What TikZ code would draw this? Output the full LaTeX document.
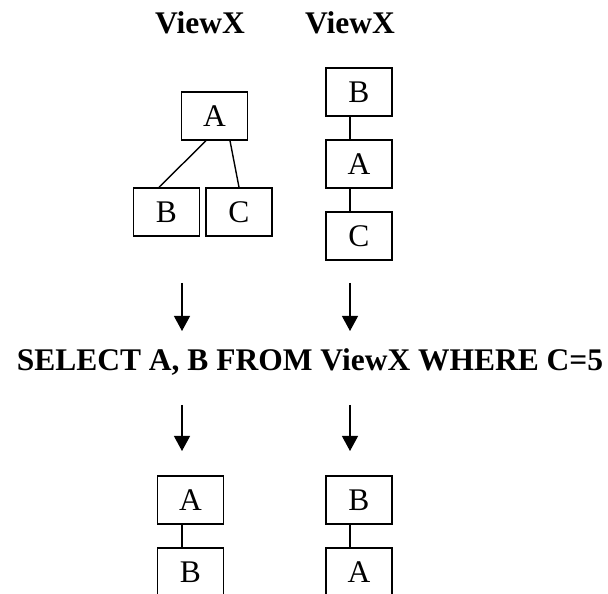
\documentclass[tikz,border=0pt]{standalone}
\usepackage{fontspec}
\setmainfont{Liberation Serif}
\usetikzlibrary{arrows.meta,positioning}

\begin{document}
\begin{tikzpicture}[x=1pt,y=1pt,>={Triangle[width=16pt,length=15pt]},
    box/.style={draw,line width=1.5pt,minimum width=66pt,minimum height=48pt,
                inner sep=0pt,font=\fontsize{31.5}{36}\selectfont},
    title/.style={anchor=base,inner sep=0pt,font=\fontsize{31.5}{36}\selectfont\bfseries},
    link/.style={line width=1.4pt},
    flow/.style={->,line width=1.2pt}]
    \useasboundingbox (0,0) rectangle (608,594);
    % headings
    \node[title] (hl) at (200,560.7) {ViewX};
    \node[title] (hr) at (350,560.7) {ViewX};
    % tree view
    \node[box] (a) at (214.5,478) {A};
    \node[box] (b) at (166.5,382) {B};
    \node[box] (c) at (239,382) {C};
    \draw[link] ([xshift=-8.5pt]a.south)--([xshift=-7.5pt]b.north);
    \draw[link] ([xshift=15.5pt]a.south)--(c.north);
    % chain view
    \node[box] (b1) at (359,502) {B};
    \node[box] (a1) at (359,430) {A};
    \node[box] (c1) at (359,358) {C};
    \draw[link] ([xshift=-9pt]b1.south)--([xshift=-9pt]a1.north);
    \draw[link] ([xshift=-9pt]a1.south)--([xshift=-9pt]c1.north);
    % query
    \node[title] (q) at (310,223) {SELECT A, B FROM ViewX WHERE C=5};
    \coordinate (l1) at (182,311); \coordinate (l2) at (182,263);
    \coordinate (r1) at (350,311); \coordinate (r2) at (350,263);
    \coordinate (l3) at (182,189); \coordinate (l4) at (182,143);
    \coordinate (r3) at (350,189); \coordinate (r4) at (350,143);
    \draw[flow] (l1)--(l2);
    \draw[flow] (r1)--(r2);
    \draw[flow] (l3)--(l4);
    \draw[flow] (r3)--(r4);
    % results
    \node[box] (a2) at (190.5,94) {A};
    \node[box] (b2) at (190.5,22) {B};
    \node[box] (b3) at (359,94) {B};
    \node[box] (a3) at (359,22) {A};
    \draw[link] ([xshift=-8.5pt]a2.south)--([xshift=-8.5pt]b2.north);
    \draw[link] ([xshift=-9pt]b3.south)--([xshift=-9pt]a3.north);
\end{tikzpicture}
\end{document}
